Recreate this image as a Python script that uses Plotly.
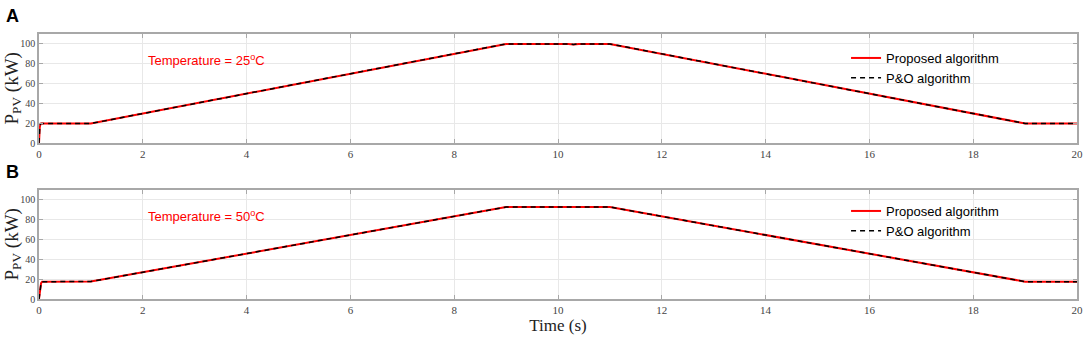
import plotly.graph_objects as go
from plotly.subplots import make_subplots

# panel A (25 C)
t_a = [0, 0.005, 0.015, 0.03, 0.05, 1.0, 9.0, 10.2, 10.3, 10.4, 11.0, 19.0, 20.0]
p_a = [0, 8, 16, 19.5, 19.6, 19.7, 100.0, 100.0, 99.5, 100.0, 100.0, 19.7, 19.7]
# panel B (50 C)
t_b = [0, 0.01, 0.02, 0.04, 0.06, 1.0, 9.0, 10.2, 10.4, 10.6, 11.0, 19.0, 20.0]
p_b = [0, 5, 11, 16, 17.5, 17.6, 92.8, 92.6, 92.3, 92.8, 92.8, 17.5, 17.5]

temps = ["25", "50"]
x_ticks = list(range(0, 21, 2))
y_ticks = list(range(0, 101, 20))

RED = "#ff0000"
GRID = "#e8e8e8"
FRAME = "#a8a8a8"
SERIF = "Liberation Serif, Times New Roman, serif"
SANS = "Liberation Sans, Arial, sans-serif"

PLOT_H = 265
PLOT_W = 1038
fig = make_subplots(rows=2, cols=1, vertical_spacing=47 / PLOT_H)

for i, (t, p) in enumerate([(t_a, p_a), (t_b, p_b)], start=1):
    leg = "legend" if i == 1 else "legend2"
    xr = "x" if i == 1 else f"x{i}"
    yr = "y" if i == 1 else f"y{i}"
    fig.add_trace(
        go.Scatter(x=t, y=p, mode="lines", line=dict(color=RED, width=2),
                   name="Proposed algorithm", legend=leg),
        row=i, col=1,
    )
    fig.add_trace(
        go.Scatter(x=t, y=p, mode="lines", line=dict(color="black", width=1.5, dash="5px,4px"),
                   name="P&O algorithm", legend=leg),
        row=i, col=1,
    )
    fig.add_annotation(
        x=2.06, y=84, xref=xr, yref=yr,
        text=f"Temperature = {temps[i - 1]}<sup>o</sup>C", showarrow=False, xanchor="left",
        font=dict(family=SANS, size=13, color=RED),
    )
    # y title as a rotated annotation so it sits where the reference has it
    fig.add_annotation(
        x=(12 - 39) / PLOT_W, y=55, xref="paper", yref=yr, textangle=-90,
        text="P<sub>PV</sub> (kW)", showarrow=False, xanchor="center", yanchor="middle",
        font=dict(family=SERIF, size=19, color="#222"),
    )
    fig.update_xaxes(
        range=[0, 20], tickvals=x_ticks, ticks="inside", ticklen=4, tickcolor=FRAME,
        showline=True, linecolor=FRAME, linewidth=1.5, mirror="allticks",
        showgrid=True, gridcolor=GRID, zeroline=False, automargin=False,
        tickfont=dict(family=SERIF, size=11, color="#444"),
        row=i, col=1,
    )
    fig.update_yaxes(
        range=[0, 110], tickvals=y_ticks, ticks="inside", ticklen=4, tickcolor=FRAME,
        showline=True, linecolor=FRAME, linewidth=1.5, mirror="allticks",
        showgrid=True, gridcolor=GRID, zeroline=False, automargin=False,
        tickfont=dict(family=SERIF, size=10, color="#444"),
        row=i, col=1,
    )

fig.update_xaxes(title=dict(text="Time (s)", font=dict(family=SERIF, size=17, color="#222"), standoff=4), row=2, col=1)

# panel letters
for txt, ypx in [("A", 4), ("B", 160)]:
    fig.add_annotation(x=-35 / PLOT_W, y=1 + (34 - ypx) / PLOT_H, xref="paper", yref="paper",
                       xanchor="left", yanchor="top", text=f"<b>{txt}</b>", showarrow=False,
                       font=dict(family=SANS, size=18, color="black"))

leg_style = dict(bgcolor="rgba(0,0,0,0)", font=dict(family=SANS, size=13, color="black"),
                 xanchor="left", yanchor="top", tracegroupgap=0, itemwidth=30)
fig.update_layout(
    width=1084, height=342,
    margin=dict(l=39, r=7, t=34, b=43),
    plot_bgcolor="white", paper_bgcolor="white",
    legend=dict(x=0.7775, y=1 - (43 - 34) / PLOT_H, **leg_style),
    legend2=dict(x=0.7775, y=1 - (196 - 34) / PLOT_H, **leg_style),
)

# drop the default 8px page margin so the figure fills the window
fig.write_html("out.html", config={"displayModeBar": False},
               post_script="document.body.style.margin='0';")
